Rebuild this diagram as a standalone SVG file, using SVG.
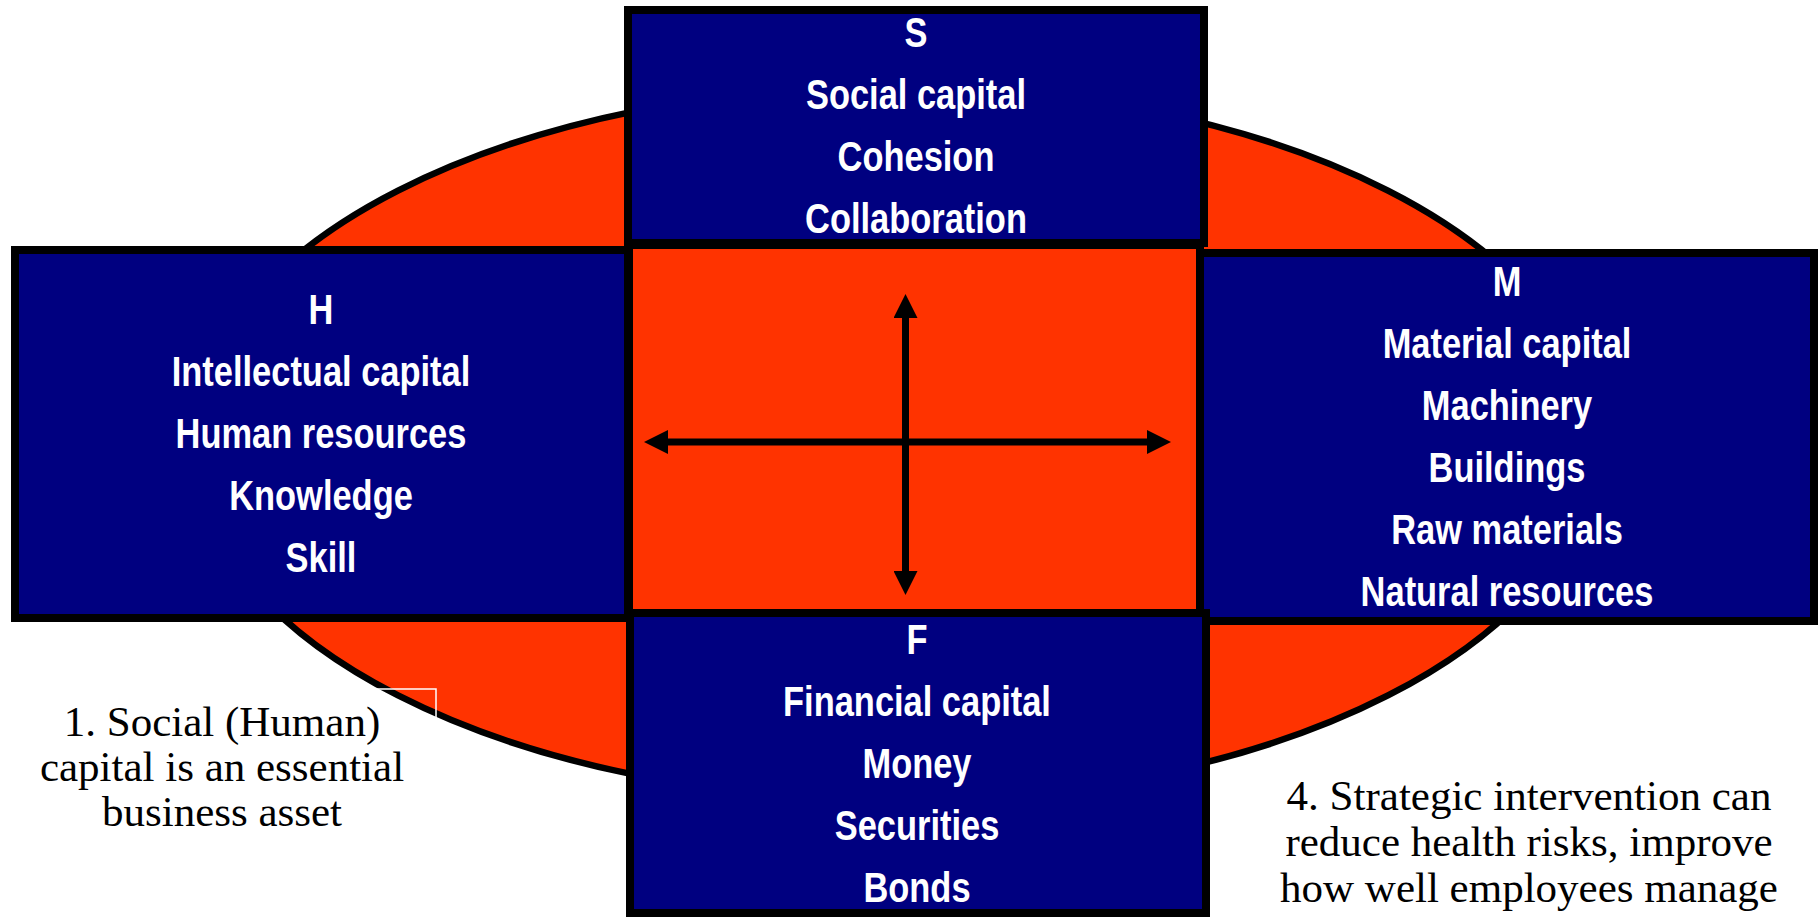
<svg xmlns="http://www.w3.org/2000/svg" width="1818" height="918" viewBox="0 0 1818 918">
  <style>
    .box { fill: #000080; stroke: #000000; stroke-width: 8; }
    .core { fill: #FF3300; stroke: #000000; stroke-width: 8; }
    .lbl { font-family: "Liberation Sans", Arial, sans-serif; font-weight: bold; font-size: 42px; fill: #FFFFFF; text-anchor: middle; }
    .note { font-family: "Liberation Serif", "Times New Roman", serif; font-size: 43px; fill: #000000; text-anchor: middle; }
    .arrow { stroke: #000000; stroke-width: 7; fill: none; marker-start: url(#head); marker-end: url(#head); }
  </style>
  <defs>
    <marker id="head" markerUnits="userSpaceOnUse" markerWidth="24" markerHeight="24" refX="8" refY="12" orient="auto-start-reverse">
      <path d="M0,0 L24,12 L0,24 Z" fill="#000000"/>
    </marker>
  </defs>

  <rect width="1818" height="918" fill="#FFFFFF"/>

  <!-- background oval -->
  <ellipse id="oval" cx="893" cy="443" rx="700" ry="357" fill="#FF3300" stroke="#000000" stroke-width="6.5"/>

  <!-- central square -->
  <rect id="centre" class="core" x="629" y="245" width="571" height="368"/>

  <!-- S: social capital -->
  <g id="node-s">
    <rect class="box" x="628" y="10" width="576" height="233"/>
    <g transform="translate(916 0) scale(0.82 1)">
      <text class="lbl" x="0" y="47">S</text>
      <text class="lbl" x="0" y="109">Social capital</text>
      <text class="lbl" x="0" y="171">Cohesion</text>
      <text class="lbl" x="0" y="233">Collaboration</text>
    </g>
  </g>

  <!-- H: intellectual capital -->
  <g id="node-h">
    <rect class="box" x="15" y="250" width="613" height="368"/>
    <g transform="translate(321 0) scale(0.82 1)">
      <text class="lbl" x="0" y="324">H</text>
      <text class="lbl" x="0" y="386">Intellectual capital</text>
      <text class="lbl" x="0" y="448">Human resources</text>
      <text class="lbl" x="0" y="510">Knowledge</text>
      <text class="lbl" x="0" y="572">Skill</text>
    </g>
  </g>

  <!-- M: material capital -->
  <g id="node-m">
    <rect class="box" x="1200" y="253" width="614" height="368"/>
    <g transform="translate(1507 0) scale(0.82 1)">
      <text class="lbl" x="0" y="296">M</text>
      <text class="lbl" x="0" y="358">Material capital</text>
      <text class="lbl" x="0" y="420">Machinery</text>
      <text class="lbl" x="0" y="482">Buildings</text>
      <text class="lbl" x="0" y="544">Raw materials</text>
      <text class="lbl" x="0" y="606">Natural resources</text>
    </g>
  </g>

  <!-- F: financial capital -->
  <g id="node-f">
    <rect class="box" x="630" y="613" width="576" height="300"/>
    <g transform="translate(917 0) scale(0.82 1)">
      <text class="lbl" x="0" y="654">F</text>
      <text class="lbl" x="0" y="716">Financial capital</text>
      <text class="lbl" x="0" y="778">Money</text>
      <text class="lbl" x="0" y="840">Securities</text>
      <text class="lbl" x="0" y="902">Bonds</text>
    </g>
  </g>

  <!-- two-way arrows in the centre -->
  <g id="connectors">
    <line class="arrow" x1="660" y1="442" x2="1155" y2="442"/>
    <line class="arrow" x1="905.5" y1="310" x2="905.5" y2="579"/>
  </g>

  <!-- note 1 -->
  <g id="note-1">
    <rect x="24" y="689" width="412" height="150" fill="none" stroke="#FFFFFF" stroke-width="1.5"/>
    <text class="note" x="222" y="736">1. Social (Human)</text>
    <text class="note" x="222" y="781">capital is an essential</text>
    <text class="note" x="222" y="826">business asset</text>
  </g>

  <!-- note 4 -->
  <g id="note-4">
    <text class="note" x="1529" y="810">4. Strategic intervention can</text>
    <text class="note" x="1529" y="856">reduce health risks, improve</text>
    <text class="note" x="1529" y="902">how well employees manage</text>
  </g>
</svg>
